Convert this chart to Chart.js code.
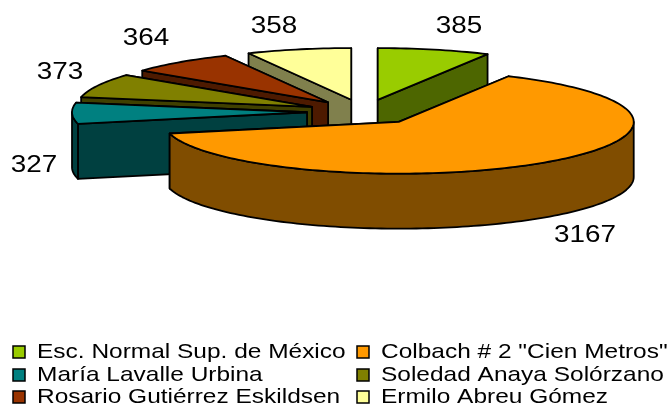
<!DOCTYPE html>
<html>
<head>
<meta charset="utf-8">
<style>
html,body{margin:0;padding:0;background:#fff;}
#wrap{position:relative;width:672px;height:406px;}
canvas{display:block;}
</style>
<script src="https://cdn.jsdelivr.net/npm/chart.js@4"></script>
</head>
<body>
<div id="wrap"><canvas id="c" width="672" height="406"></canvas></div>
<script>
const categories = ['Esc. Normal Sup. de México', 'Colbach # 2 "Cien Metros"', 'María Lavalle Urbina', 'Soledad Anaya Solórzano', 'Rosario Gutiérrez Eskildsen', 'Ermilo Abreu Gómez'];
const values = [385, 3167, 327, 373, 364, 358];
const topColors = ['#99CC00', '#FF9900', '#008080', '#808000', '#993300', '#FFFF99'];
const wallColors = ['#4D6600', '#804D00', '#004040', '#404000', '#4D1A00', '#80804D'];

const TILT = 0.22, DEPTH = 55, EXPLODE = 57, RADIUS = 235;
const paintOrder = [5, 0, 4, 3, 2, 1];
const labelPos = [[459, 26], [585, 235], [34, 165], [60, 72], [146, 38], [274, 26]];
const legendPos = [[13, 37, 352], [357, 381, 352], [13, 37, 375], [357, 381, 375], [13, 37, 397], [357, 381, 397]];

function pieto3d(chart) {
  const ctx = chart.ctx;
  const arcs = chart.getDatasetMeta(0).data;
  ctx.save();
  ctx.lineJoin = 'round';
  ctx.strokeStyle = '#000';
  ctx.lineWidth = 1.8;
  paintOrder.forEach(function (i) {
    const a = arcs[i];
    const mid = (a.startAngle + a.endAngle) / 2;
    const r = a.outerRadius;
    const ox = a.x + Math.cos(mid) * EXPLODE;
    const oy = a.y + Math.sin(mid) * EXPLODE * TILT;
    const px = function (t) { return ox + Math.cos(t) * r; };
    const py = function (t) { return oy + Math.sin(t) * r * TILT; };
    const sectorPath = function (dy) {
      ctx.beginPath();
      ctx.moveTo(ox, oy + dy);
      const steps = Math.ceil((a.endAngle - a.startAngle) * 40);
      for (let s = 0; s <= steps; s++) {
        const t = a.startAngle + (a.endAngle - a.startAngle) * s / steps;
        ctx.lineTo(px(t), py(t) + dy);
      }
      ctx.closePath();
    };
    const quad = function (t) {
      ctx.beginPath();
      ctx.moveTo(ox, oy);
      ctx.lineTo(px(t), py(t));
      ctx.lineTo(px(t), py(t) + DEPTH);
      ctx.lineTo(ox, oy + DEPTH);
      ctx.closePath();
      ctx.fillStyle = wallColors[i];
      ctx.fill();
      ctx.stroke();
    };
    // radial walls, farther one first
    const edges = [a.startAngle, a.endAngle].sort(function (p, q) { return py(p) - py(q); });
    quad(edges[0]);
    quad(edges[1]);
    // curved outer wall: only the part facing the viewer
    let lo = a.startAngle, hi = a.endAngle;
    for (let k = -1; k <= 1; k++) {
      const s = Math.max(lo, k * 2 * Math.PI);
      const e = Math.min(hi, k * 2 * Math.PI + Math.PI);
      if (e > s) {
        ctx.beginPath();
        const steps = Math.ceil((e - s) * 40);
        for (let n = 0; n <= steps; n++) {
          const t = s + (e - s) * n / steps;
          ctx.lineTo(px(t), py(t));
        }
        for (let n = steps; n >= 0; n--) {
          const t = s + (e - s) * n / steps;
          ctx.lineTo(px(t), py(t) + DEPTH);
        }
        ctx.closePath();
        ctx.fillStyle = wallColors[i];
        ctx.fill();
        ctx.stroke();
      }
    }
    // top face
    sectorPath(0);
    ctx.fillStyle = topColors[i];
    ctx.fill();
    ctx.stroke();
  });
  ctx.restore();
}

function stretchedText(ctx, text, x, y, sx) {
  ctx.save();
  ctx.translate(x, y);
  ctx.scale(sx, 1);
  ctx.fillText(text, 0, 0);
  ctx.restore();
}

const pie3d = {
  id: 'pie3d',
  beforeDatasetsDraw: function (chart) {
    pieto3d(chart);
    return false;
  },
  afterDraw: function (chart) {
    const ctx = chart.ctx;
    ctx.save();
    ctx.fillStyle = '#000';
    ctx.textBaseline = 'middle';
    ctx.textAlign = 'center';
    ctx.font = '24px "Liberation Sans"';
    values.forEach(function (v, i) {
      stretchedText(ctx, String(v), labelPos[i][0], labelPos[i][1], 1.16);
    });
    ctx.textAlign = 'left';
    ctx.font = '21px "Liberation Sans"';
    categories.forEach(function (name, i) {
      const p = legendPos[i];
      ctx.fillStyle = topColors[i];
      ctx.fillRect(p[0], p[2] - 6, 12, 12);
      ctx.strokeStyle = '#000';
      ctx.lineWidth = 1.5;
      ctx.strokeRect(p[0], p[2] - 6, 12, 12);
      ctx.fillStyle = '#000';
      stretchedText(ctx, name, p[1], p[2], 1.165);
    });
    ctx.restore();
  }
};

new Chart(document.getElementById('c'), {
  type: 'pie',
  data: {
    labels: categories,
    datasets: [{ data: values, backgroundColor: topColors, borderColor: '#000', borderWidth: 1.5 }]
  },
  options: {
    responsive: false,
    animation: false,
    rotation: 0,
    radius: RADIUS,
    layout: { padding: { left: 56, right: 0, top: 0, bottom: 182 } },
    plugins: { legend: { display: false }, tooltip: { enabled: false } }
  },
  plugins: [pie3d]
});
</script>
</body>
</html>
